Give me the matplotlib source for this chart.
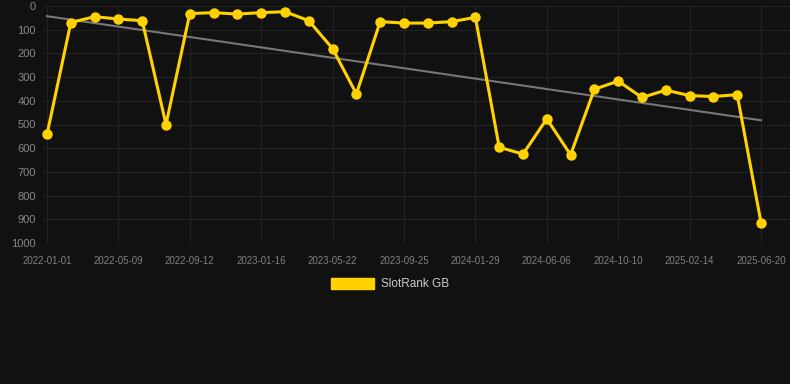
import numpy as np
import matplotlib.pyplot as plt
from matplotlib.patches import Patch

# SlotRank GB positions (lower is better), one point roughly every 42 days
ranks = [542, 70, 45, 55, 62, 500, 32, 28, 34, 28, 24, 62, 180, 371, 66,
         72, 72, 66, 48, 596, 625, 476, 628, 351, 317, 386, 355, 378, 382, 374, 914]
tick_labels = ['2022-01-01', '2022-05-09', '2022-09-12', '2023-01-16', '2023-05-22',
               '2023-09-25', '2024-01-29', '2024-06-06', '2024-10-10', '2025-02-14',
               '2025-06-20']

bg = '#111111'
gold = '#FFD200'
plt.rcParams['font.family'] = ['Liberation Sans', 'DejaVu Sans']

x = np.arange(len(ranks))
y = np.array(ranks)

# linear trend
k, b = np.polyfit(x, y, 1)

fig = plt.figure(figsize=(7.9, 3.84), dpi=100, facecolor=bg)
ax = fig.add_axes([43 / 790, 1 - 243 / 384, (790 - 43) / 790, (243 - 6) / 384])
ax.set_facecolor(bg)

ax.plot(x, k * x + b, color='#777777', lw=1.5, zorder=2)
ax.plot(x, y, color=gold, lw=2.2, marker='o', ms=6.5, zorder=3, clip_on=False)

ax.set_xlim(-4 / 23.8, (790 - 47) / 23.8)
ax.set_ylim(1000, 0)
ax.set_yticks(range(0, 1001, 100))
ax.set_xticks(x[::3])
ax.set_xticklabels(tick_labels)

ax.grid(True, color='#222222', lw=0.8)
for s in ax.spines.values():
    s.set_visible(False)
ax.tick_params(axis='y', colors='#888888', labelsize=8, length=0, pad=5)
ax.tick_params(axis='x', colors='#808080', labelsize=7, length=0, pad=9)

fig.legend(handles=[Patch(facecolor=gold, edgecolor=gold, label='SlotRank GB')],
           loc='center', bbox_to_anchor=(390 / 790, 1 - 284 / 384), frameon=False,
           handlelength=3.6, handleheight=1.1, handletextpad=0.6,
           fontsize=8.5, labelcolor='#cccccc')

fig.savefig('out.png', dpi=100, facecolor=bg)
